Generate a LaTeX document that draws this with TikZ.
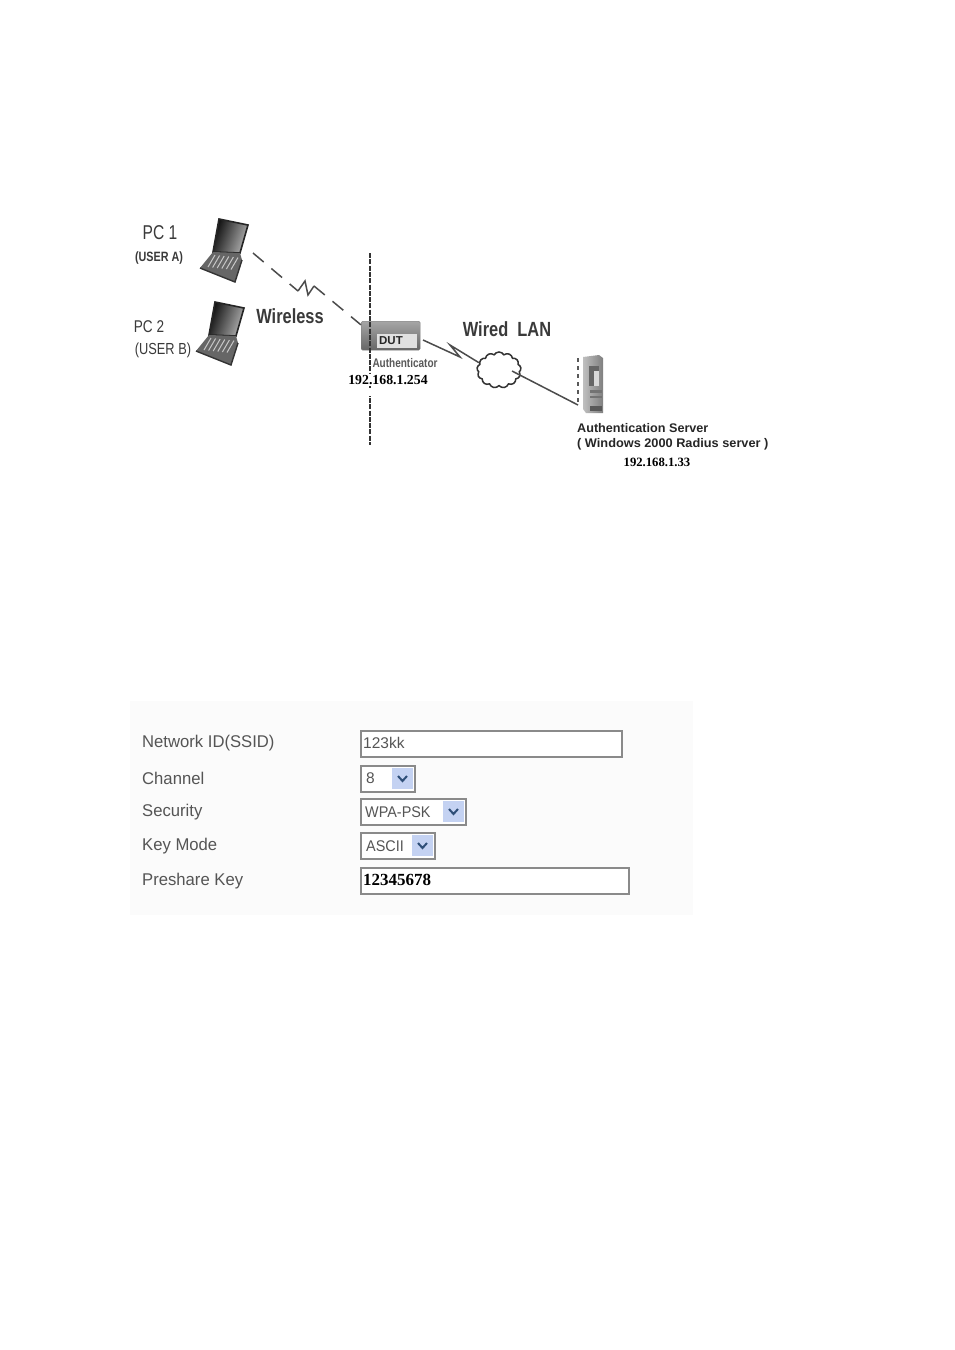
\documentclass[tikz,border=0pt]{standalone}
\usepackage{fontspec}
\setmainfont{Liberation Sans}
\newfontfamily\serifb{Liberation Serif}
\usetikzlibrary{shapes.symbols,calc}
\definecolor{txt}{HTML}{3A3A3A}
\definecolor{formtxt}{HTML}{555555}
\definecolor{fieldedge}{HTML}{8A8A8A}
\definecolor{btn}{HTML}{C4D2F2}
\definecolor{arrowc}{HTML}{2F4F78}
\definecolor{panel}{HTML}{FBFBFB}
\tikzset{
  lbl/.style={inner sep=0pt,text=txt,anchor=center},
  formlbl/.style={inner sep=0pt,text=formtxt,anchor=west,font=\fontsize{17}{17}\selectfont,xscale=.98},
  ipl/.style={inner sep=1pt,fill=white,text=black,font=\serifb\bfseries\fontsize{13.8}{14}\selectfont,anchor=center},
  field/.style={draw=fieldedge,line width=1.5pt,fill=white,inner sep=0pt,minimum height=26pt,anchor=north west},
  val/.style={inner sep=0pt,text=formtxt,anchor=west,font=\fontsize{15.5}{16}\selectfont},
  conn/.style={draw=black!70,line width=1.5pt},
  wire/.style={conn,dash pattern=on 14pt off 10pt},
  wall/.style={draw=black!80,line width=2.8pt,dash pattern=on 5pt off 1.3pt},
}
\newcommand{\laptopshape}[3]{% x, y, name
  \begin{scope}[shift={(#1,#2)}]
    \shade[left color=black!95,right color=black!30,shading angle=70] (6,0) -- (35,6) -- (27,34) -- (0,33) -- cycle;
    \draw[black!85,line width=1.6pt] (6,0) -- (35,6) -- (27,34) -- (0,33) -- cycle;
    \fill[black!60] (0,33) -- (27,34) -- (29,41) -- (22,63) -- (-13,49) -- cycle;
    \foreach \i in {0,...,5}
      \draw[white!78!black,line width=1pt] ($(2,36)+(\i*4.6,.5*\i)$) -- ++(-7,12);
    \draw[black!80,line width=1.4pt] (-13,49) -- (22,63) -- (29,41);
    \coordinate (#3) at (34,34);
  \end{scope}
}
\begin{document}
\begin{tikzpicture}[x=1pt,y=-1pt]
\useasboundingbox[fill=white] (0,0) rectangle (954,1350);

% laptops
\laptopshape{213}{219}{pcone}
\laptopshape{209}{302}{pctwo}

\node[lbl,font=\fontsize{20}{20}\selectfont,xscale=.78] (pc1) at (160,233) {PC 1};
\node[lbl,font=\bfseries\fontsize{13.5}{14}\selectfont,xscale=.8] (usera) at (159,258) {(USER A)};
\node[lbl,font=\fontsize{17}{17}\selectfont,xscale=.8] (pc2) at (149,327) {PC 2};
\node[lbl,font=\fontsize{16}{16}\selectfont,xscale=.8] (userb) at (163,350) {(USER B)};
\node[lbl,font=\bfseries\fontsize{20.5}{21}\selectfont,xscale=.8] (wireless) at (290,316) {Wireless};
\node[lbl,font=\bfseries\fontsize{20.5}{21}\selectfont,xscale=.8] (wired) at (507,329) {Wired\ \ LAN};

% vertical boundary
\coordinate (walltop) at (370,253);
\coordinate (wallbot) at (370,445);

% DUT
\node[inner sep=0pt,minimum width=59pt,minimum height=29pt,anchor=north west,
  top color=black!35,bottom color=black!60,draw=black!50,rounded corners=1.5pt] (dut) at (361,321) {};
\fill[black!12] (377,334) rectangle (417,348);
\node[inner sep=0pt,text=black!85,font=\bfseries\fontsize{11.5}{12}\selectfont] (dutl) at (391,341) {DUT};
\draw[wall] (walltop) -- (wallbot);
\node[lbl,font=\bfseries\fontsize{12.5}{13}\selectfont,xscale=.8,text=black!65] (auth) at (405,363) {Authenticator};
\node[ipl] (ipa) at (388,380) {192.168.1.254};
\fill[white] (360,388) rectangle (380,396);

% wireless link
\coordinate (wlA) at (298,291);
\coordinate (wlB) at (305,281);
\coordinate (wlC) at (308,295);
\coordinate (wlD) at (314,286);
\coordinate (pcend) at (253,253);
\draw[wire] (pcend) -- (wlA);
\draw[conn] (wlA) -- (wlB) -- (wlC) -- (wlD);
\draw[wire] (wlD) -- (dut.160);

% cloud
\node[cloud,cloud puffs=13,cloud puff arc=120,aspect=1.15,draw=black!80,line width=1.5pt,fill=white,
  minimum width=44pt,minimum height=36pt,inner sep=0pt] (lan) at (499,370) {};

% server
\begin{scope}
  \shade[left color=black!25,right color=black!50] (583,357) -- (599,355) -- (603,358) -- (603,413) -- (586,413) -- (583,409) -- cycle;
  \fill[black!60] (589,366) rectangle (599,386);
  \fill[black!15] (594,371) rectangle (599,386);
  \fill[black!55] (590,390) rectangle (602,393);
  \fill[black!55] (590,396) rectangle (602,398);
  \fill[black!65] (590,406) rectangle (602,411);
  \node[inner sep=0pt,minimum width=20pt,minimum height=58pt,anchor=north west] (srv) at (583,355) {};
\end{scope}
\coordinate (srvwall) at (578,358);
\coordinate (srvwallb) at (578,405);
\draw[draw=black!65,line width=1.3pt,dash pattern=on 4pt off 4pt] (srvwall) -- (srvwallb);

% zigzag to cloud
\coordinate (dutout) at (423,340);
\coordinate (zA) at (460,357);
\coordinate (zB) at (450,345);
\draw[conn] (dutout) -- (zA) -- (zB) -- (lan.160);
\coordinate (lanin) at (512,371);
\draw[conn] (lanin) -- (srvwallb);

\node[inner sep=0pt,anchor=west,text=black!85,font=\bfseries\fontsize{12.5}{13}\selectfont,xscale=1.01] (as) at (577,428) {Authentication Server};
\node[inner sep=0pt,anchor=west,text=black!85,font=\bfseries\fontsize{12.5}{13}\selectfont,xscale=1.02] (win) at (577,444) {( Windows 2000 Radius server )};
\node[ipl,font=\serifb\bfseries\fontsize{12.7}{13}\selectfont] (ipb) at (657,462) {192.168.1.33};

% form
\node[fill=panel,inner sep=0pt,minimum width=563pt,minimum height=214pt,anchor=north west] (panelbox) at (130,701) {};
\node[formlbl] (l1) at (142,743) {Network ID(SSID)};
\node[formlbl] (l2) at (142,778) {Channel};
\node[formlbl] (l3) at (142,812) {Security};
\node[formlbl] (l4) at (142,846) {Key Mode};
\node[formlbl] (l5) at (142,881) {Preshare Key};

\node[field,minimum width=261pt] (f1) at (360,730) {};
\node[val] at (363,743) {123kk};
\node[field,minimum width=54pt] (f2) at (360,765) {};
\node[val] at (366,778) {8};
\node[field,minimum width=105pt] (f3) at (360,798) {};
\node[val,xscale=.93] at (365,812) {WPA-PSK};
\node[field,minimum width=74pt] (f4) at (360,832) {};
\node[val,xscale=.93] at (366,846) {ASCII};
\node[field,minimum width=268pt] (f5) at (360,867) {};
\node[inner sep=0pt,anchor=west,text=black,font=\serifb\bfseries\fontsize{17}{17}\selectfont] at (363,880) {12345678};

\foreach \n/\bx/\by in {a/392/768,b/443/801,c/412/835}{
  \fill[btn] (\bx,\by) rectangle ++(21,21);
  \draw[arrowc,line width=2pt] (\bx+6,\by+8) -- (\bx+10.5,\by+13) -- (\bx+15,\by+8);
}
\end{tikzpicture}
\end{document}
